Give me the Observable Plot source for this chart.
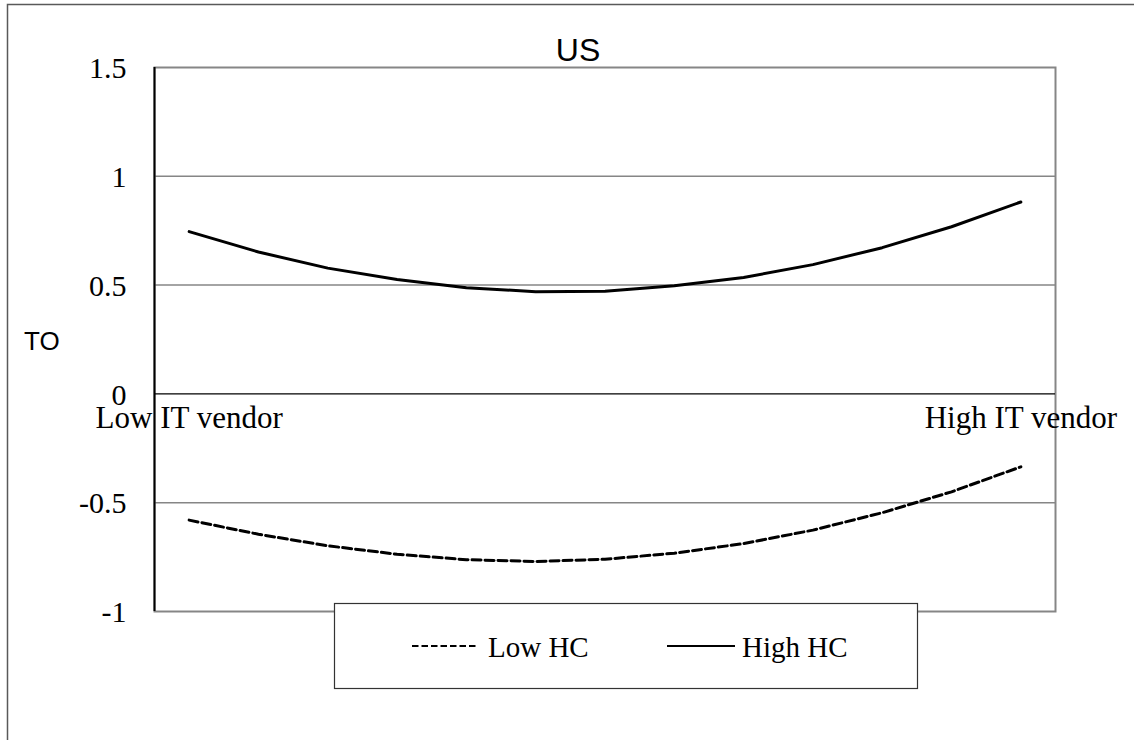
<!DOCTYPE html>
<html><head><meta charset="utf-8">
<script src="https://cdn.jsdelivr.net/npm/d3@7"></script>
<script src="https://cdn.jsdelivr.net/npm/@observablehq/plot@0.6"></script>
<style>
body{margin:0;background:#fff}
#chart{position:relative;width:1134px;height:740px;overflow:hidden}
</style>
</head><body><div id="chart"></div>
<script>
const categories = [1,2,3,4,5,6,7,8,9,10,11,12,13];
const categoryLabels = ["Low IT vendor","","","","","","","","","","","","High IT vendor"];
const lowHC  = [-0.580,-0.645,-0.698,-0.737,-0.762,-0.770,-0.760,-0.732,-0.688,-0.626,-0.546,-0.450,-0.335];
const highHC = [0.746,0.652,0.578,0.526,0.488,0.470,0.472,0.497,0.535,0.594,0.672,0.768,0.882];
const yTicks = [-1,-0.5,0,0.5,1,1.5];
const gridValues = [-0.5,0.5,1];
const seriesNames = ["Low HC","High HC"];
const titleText = "US";
const yLabel = "TO";

const data = [];
categories.forEach((c,i)=>{
  data.push({cat:c, series:seriesNames[0], value:lowHC[i]});
  data.push({cat:c, series:seriesNames[1], value:highHC[i]});
});

const serif = "Liberation Serif, Times New Roman, serif";
const sans = "Liberation Sans, Arial, sans-serif";

const chart = Plot.plot({
  width:1134, height:740,
  marginLeft:154, marginRight:79, marginTop:67, marginBottom:129,
  style:{fontFamily:serif, background:"#fff", overflow:"visible", color:"#000"},
  x:{type:"linear", domain:[0.5,13.5], axis:null},
  y:{domain:[-1,1.5], axis:null},
  marks:[
    Plot.ruleY(gridValues,{stroke:"#868686", strokeWidth:1.5}),
    Plot.frame({stroke:"#868686", strokeWidth:2}),
    Plot.ruleY([0],{stroke:"#000", strokeWidth:1.3}),
    Plot.ruleX([0.5],{stroke:"#000", strokeWidth:2}),
    Plot.text(yTicks,{x:0.5, y:d=>d, text:d=>String(d), textAnchor:"end", dx:-28, dy:1, fontSize:30, fontFamily:serif, fill:"#000"}),
    Plot.text(categories,{x:d=>d, y:0, text:(d,i)=>categoryLabels[i], dy:24, fontSize:31, fontFamily:serif, fill:"#000"}),
    Plot.line(data.filter(d=>d.series===seriesNames[0]),{x:"cat", y:"value", stroke:"#000", strokeWidth:3, strokeDasharray:"9,4", strokeLinejoin:"round"}),
    Plot.line(data.filter(d=>d.series===seriesNames[1]),{x:"cat", y:"value", stroke:"#000", strokeWidth:3, strokeLinejoin:"round"})
  ]
});

document.getElementById("chart").appendChild(chart);
const svg = d3.select(chart);

// outer chart-area border (top and left edges visible)
svg.append("path").attr("d","M7.5,760 V4.5 H1160").attr("fill","none").attr("stroke","#595959").attr("stroke-width",1.5);

// title
svg.append("text").attr("x",578).attr("y",61).attr("text-anchor","middle")
  .attr("font-family",sans).attr("font-size",32).attr("fill","#000").text(titleText);

// y-axis label
svg.append("text").attr("x",24).attr("y",350).attr("text-anchor","start")
  .attr("font-family",sans).attr("font-size",26).attr("fill","#000").text(yLabel);

// legend
const lg = svg.append("g").attr("text-anchor","start");
lg.append("rect").attr("x",334.5).attr("y",603.5).attr("width",583).attr("height",85)
  .attr("fill","#fff").attr("stroke","#333").attr("stroke-width",1.2);
lg.append("line").attr("x1",412).attr("x2",477).attr("y1",646).attr("y2",646)
  .attr("stroke","#000").attr("stroke-width",2.2).attr("stroke-dasharray","6.5,3");
lg.append("text").attr("x",488).attr("y",657).attr("font-family",serif).attr("font-size",29).attr("fill","#000").text(seriesNames[0]);
lg.append("line").attr("x1",667).attr("x2",735).attr("y1",646).attr("y2",646)
  .attr("stroke","#000").attr("stroke-width",2.2);
lg.append("text").attr("x",742).attr("y",657).attr("font-family",serif).attr("font-size",29).attr("fill","#000").text(seriesNames[1]);
</script>
</body></html>
